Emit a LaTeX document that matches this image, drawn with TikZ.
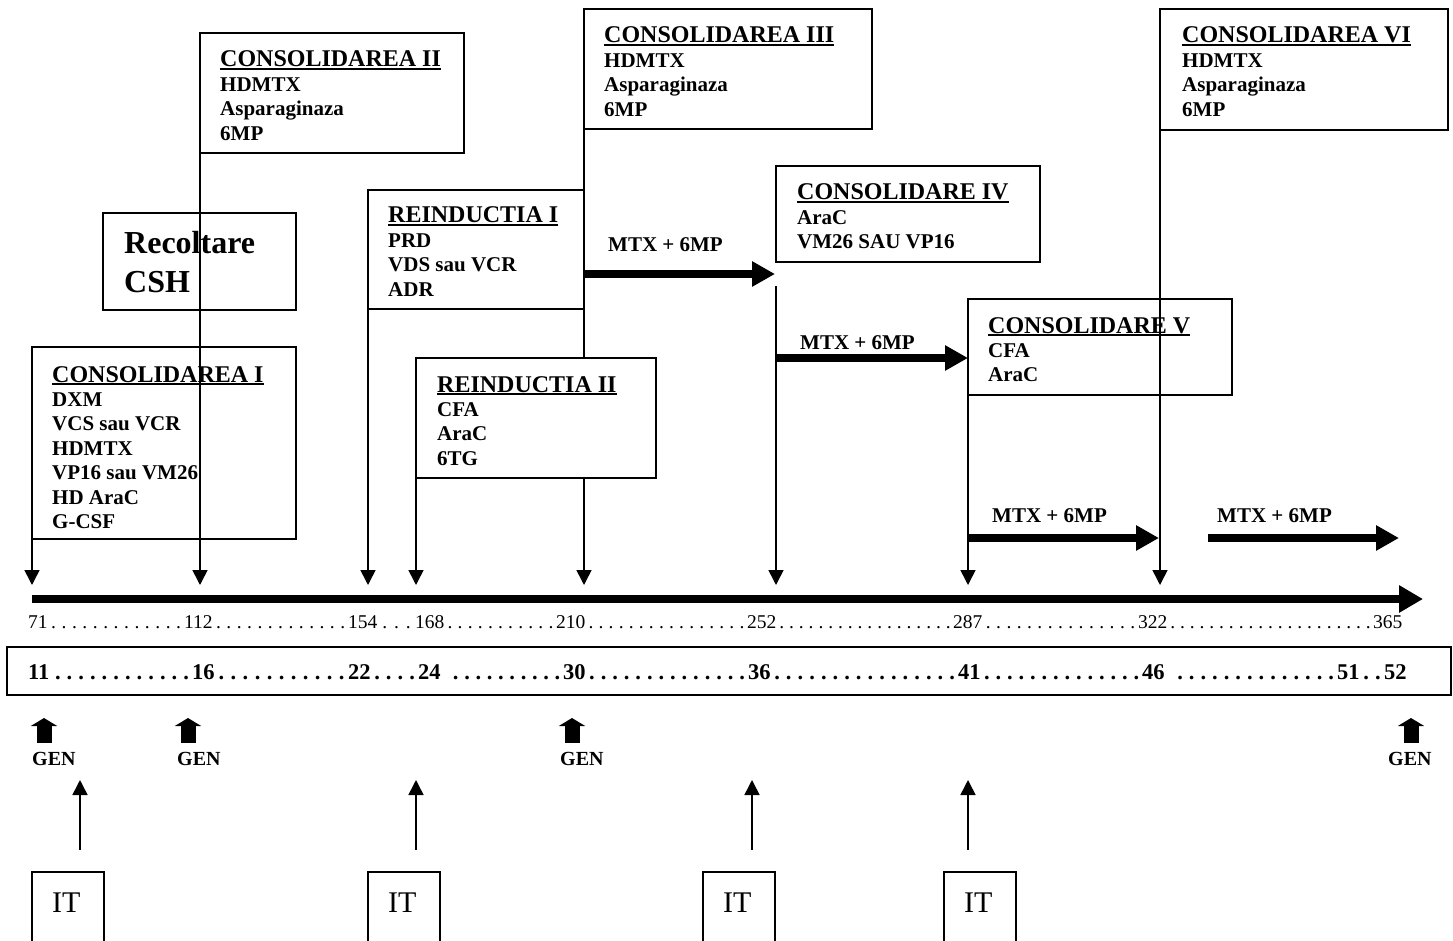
\documentclass[tikz,border=0pt]{standalone}
\usepackage{fontspec}
\setmainfont{Liberation Serif}
\usetikzlibrary{arrows.meta,calc}
\newcommand\dotlead{\xleaders\hbox to 0.5em{\hss.\hss}\hfill}
\newcommand\hdul[1]{\setbox0\hbox{#1}\rlap{\rule[-3pt]{\wd0}{2.2pt}}\box0}
\newcommand\mklead[5]{\path let \p1=(#2.base east), \p2=(#3.base west) in node[#1, anchor=base west] (#4) at (\p1) {\hbox to \dimexpr\x2-\x1\relax{\hskip#5\dotlead}};}
\newcommand\drugbox[5]{\node[hd] (#1h) at (#2,#3) {\hdul{#4}};
  \foreach \t [count=\i] in {#5} {\node[dr] (#1l\i) at (#2,#3+24.4*\i) {\t};}}
\tikzset{
  box/.style={draw, line width=1.6pt, inner sep=0pt, outer sep=0pt, anchor=north west},
  hd/.style={font=\fontsize{24}{24}\selectfont\bfseries, inner sep=0pt, anchor=base west},
  dr/.style={font=\fontsize{21}{21}\selectfont\bfseries, inner sep=0pt, anchor=base west},
  big/.style={font=\fontsize{32}{32}\selectfont\bfseries, inner sep=0pt, anchor=base west},
  num/.style={font=\fontsize{19.5}{20}\selectfont, inner sep=0pt},
  bnum/.style={font=\fontsize{22.5}{23}\selectfont\bfseries, inner sep=0pt},
  gen/.style={font=\fontsize{20}{20}\selectfont\bfseries, inner sep=0pt, anchor=base west},
  itt/.style={font=\fontsize{30}{30}\selectfont, inner sep=0pt, anchor=base west},
  thinarr/.style={line width=1.6pt, -{Triangle[width=15pt,length=15pt]}},
  thickarr/.style={line width=8pt, -{Triangle[width=24pt,length=23pt]}},
  timeline/.style={line width=8pt, -{Triangle[width=26pt,length=24pt]}},
  genarr/.style={line width=15pt, -{Triangle[width=26pt,length=8pt]}},
}
\begin{document}
\begin{tikzpicture}[x=1pt,y=-1pt]
\useasboundingbox (0,0) rectangle (1453,941);
\fill[white] (0,0) rectangle (1453,941);
\clip (0,0) rectangle (1453,941);

% boxes
\node[box, minimum width=264, minimum height=192] (c1) at (32,347) {};
\node[box, minimum width=264, minimum height=120] (c2) at (200,33) {};
\node[box, minimum width=193, minimum height=97] (rc) at (103,213) {};
\node[box, minimum width=216, minimum height=119] (r1) at (368,190) {};
\node[box, minimum width=288, minimum height=120] (c3) at (584,9) {};
\node[box, minimum width=264, minimum height=96] (c4) at (776,166) {};
\node[box, minimum width=264, minimum height=96] (c5) at (968,299) {};
\node[box, minimum width=288, minimum height=121] (c6) at (1160,9) {};

% tips on the timeline
\foreach \x [count=\i] in {32,200,368,416,584,776,968,1160} \coordinate (tip\i) at (\x,585);
\coordinate (c4s) at (776,286);

% vertical connectors
\draw[thinarr] (c1.south west) -- (tip1);
\draw[thinarr] (c2.south west) -- (tip2);
\draw[thinarr] (r1.south west) -- (tip3);
\draw[thinarr] (c3.south west) -- (tip5);
\draw[thinarr] (c4s) -- (tip6);
\draw[thinarr] (c5.south west) -- (tip7);
\draw[thinarr] (c6.south west) -- (tip8);

% reinductia II covers the line
\node[box, fill=white, minimum width=240, minimum height=120] (r2) at (416,358) {};
\draw[thinarr] (r2.south west) -- (tip4);

% box texts
\drugbox{ci}{52}{382}{CONSOLIDAREA I}{DXM,VCS sau VCR,HDMTX,VP16 sau VM26,HD AraC,G-CSF}
\drugbox{cii}{220}{67}{CONSOLIDAREA II}{HDMTX,Asparaginaza,6MP}
\drugbox{ciii}{604}{43}{CONSOLIDAREA III}{HDMTX,Asparaginaza,6MP}
\drugbox{cvi}{1182}{43}{CONSOLIDAREA VI}{HDMTX,Asparaginaza,6MP}
\drugbox{ri}{388}{223}{REINDUCTIA I}{PRD,VDS sau VCR,ADR}
\drugbox{civ}{797}{200}{CONSOLIDARE IV}{AraC,VM26 SAU VP16}
\drugbox{cv}{988}{333}{CONSOLIDARE V}{CFA,AraC}
\drugbox{rii}{437}{392}{REINDUCTIA II}{CFA,AraC,6TG}
\node[big] (rct1) at (124,254) {Recoltare};
\node[big] (rct2) at (124,292) {CSH};

% MTX + 6MP arrows
\coordinate (m1s) at (584,274); \coordinate (m1e) at (775,274);
\coordinate (m2s) at (776,358); \coordinate (m2e) at (968,358);
\coordinate (m3s) at (968,538); \coordinate (m3e) at (1159,538);
\coordinate (m4s) at (1208,538); \coordinate (m4e) at (1399,538);
\draw[thickarr] (m1s) -- (m1e);
\draw[thickarr] (m2s) -- (m2e);
\draw[thickarr] (m3s) -- (m3e);
\draw[thickarr] (m4s) -- (m4e);
\node[dr] (ml1) at (608,252) {MTX + 6MP};
\node[dr] (ml2) at (800,349) {MTX + 6MP};
\node[dr] (ml3) at (992,522) {MTX + 6MP};
\node[dr] (ml4) at (1217,522) {MTX + 6MP};

% timeline
\coordinate (tl0) at (32,599); \coordinate (tl1) at (1423,599);
\draw[timeline] (tl0) -- (tl1);

% day numbers
\foreach \v/\x in {71/28,112/184,154/348,168/415,210/556,252/747,287/953,322/1138,365/1373}
  \node[num, anchor=base west] (n\v) at (\x,628) {\v};
\foreach \a/\b [count=\i] in {71/112,112/154,154/168,168/210,210/252,252/287,287/322,322/365}
  {\mklead{num}{n\a}{n\b}{dn\i}{0pt}}

% week numbers
\node[box, minimum width=1444, minimum height=48] (wk) at (7,647) {};
\foreach \v/\x in {11/28,16/192,22/348,24/418,30/563,36/748,41/958,46/1142,51/1337,52/1384}
  \node[bnum, anchor=base west] (b\v) at (\x,679) {\v};
\foreach \a/\b/\s [count=\i] in {11/16/2pt,16/22/0pt,22/24/0pt,24/30/9pt,30/36/0pt,36/41/0pt,41/46/0pt,46/51/9pt,51/52/0pt}
  {\mklead{bnum}{b\a}{b\b}{db\i}{\s}}

% GEN
\foreach \x/\l [count=\i] in {44/32,188/177,572/560,1411/1388}{
  \coordinate (g\i b) at (\x,743); \coordinate (g\i t) at (\x,718);
  \draw[genarr] (g\i b) -- (g\i t);
  \node[gen] (gl\i) at (\l,765) {GEN};
}

% IT
\foreach \bx/\ax [count=\i] in {32/80,368/416,703/752,944/968}{
  \node[box, minimum width=72, minimum height=85] (it\i) at (\bx,872) {};
  \node[itt] (itt\i) at (\bx+20,912) {IT};
  \coordinate (ia\i) at (\ax,850); \coordinate (ib\i) at (\ax,780);
  \draw[thinarr] (ia\i) -- (ib\i);
}
\end{tikzpicture}
\end{document}
